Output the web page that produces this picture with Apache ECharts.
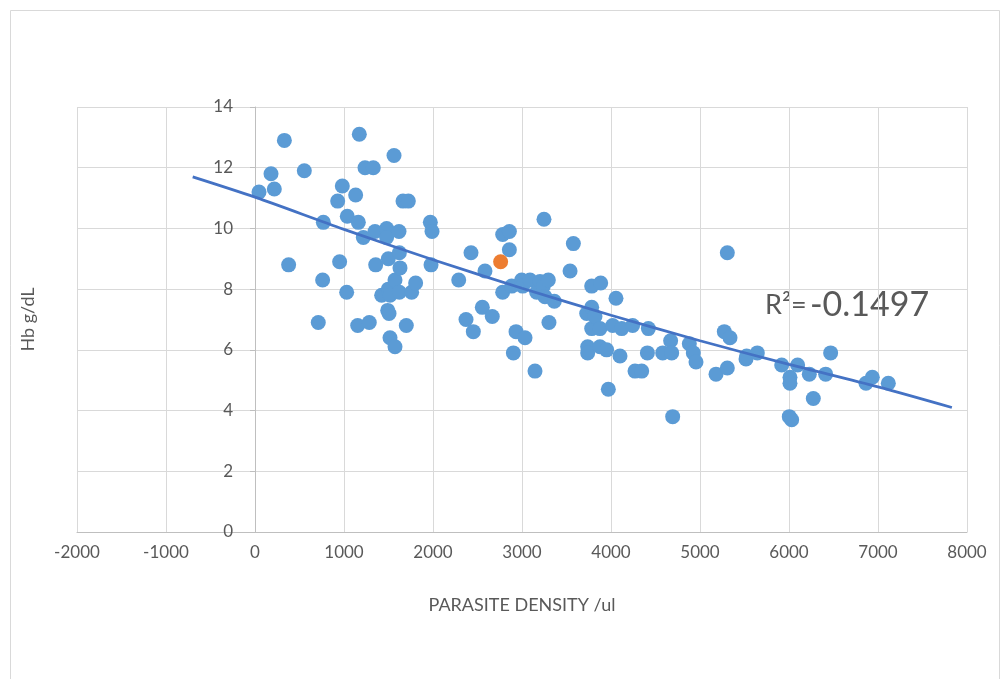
<!DOCTYPE html>
<html>
<head>
<meta charset="utf-8">
<script src="https://cdn.jsdelivr.net/npm/echarts@6/dist/echarts.min.js"></script>
<style>
  html, body { margin: 0; padding: 0; background: #fff; }
  #main { width: 1006px; height: 679px; }
</style>
</head>
<body>
<div id="main"></div>
<script>
// parasite density (/ul) and Hb (g/dL)
var density = [45,180,217,330,378,554,711,760,768,929,951,981,1030,1037,1131,1154,1161,1172,1217,1236,1284,1329,1348,1356,1423,1479,1479,1491,1498,1498,1506,1517,1517,1562,1573,1573,1618,1622,1622,1629,1663,1700,1723,1760,1805,1970,1989,1978,
  2289,2371,2427,2453,2554,2584,2666,2783,2783,2858,2858,2884,2903,2933,2996,3008,3034,3090,3146,3165,3202,3240,3247,3258,3296,3303,3363,3540,3577,
  3738,3738,3727,3783,3783,3783,3820,3876,3876,3884,3951,3970,4019,4056,4101,4120,4243,4270,4345,4409,4420,4581,4670,4682,4693,4880,4925,4955,5180,5273,5307,5307,5337,5517,5524,5644,5918,6003,6011,6011,6030,6097,6228,6273,6412,6468,6865,6936,7116];
var hb = [11.2,11.8,11.3,12.9,8.8,11.9,6.9,8.3,10.2,10.9,8.9,11.4,7.9,10.4,11.1,6.8,10.2,13.1,9.7,12.0,6.9,12.0,9.9,8.8,7.8,10.0,9.7,7.3,9.0,8.0,7.2,7.8,6.4,12.4,8.3,6.1,9.9,9.2,7.9,8.7,10.9,6.8,10.9,7.9,8.2,10.2,9.9,8.8,
  8.3,7.0,9.2,6.6,7.4,8.6,7.1,9.8,7.9,9.9,9.3,8.1,5.9,6.6,8.3,8.1,6.4,8.3,5.3,7.9,8.25,8.1,10.3,7.75,8.3,6.9,7.6,8.6,9.5,
  6.1,5.9,7.2,8.1,7.4,6.7,7.1,6.7,6.1,8.2,6.0,4.7,6.8,7.7,5.8,6.7,6.8,5.3,5.3,5.9,6.7,5.9,6.3,5.9,3.8,6.2,5.9,5.6,5.2,6.6,9.2,5.4,6.4,5.7,5.8,5.9,5.5,3.8,5.1,4.9,3.7,5.5,5.2,4.4,5.2,5.9,4.9,5.1,4.9];

// highlighted point
var markX = [2760];
var markY = [8.9];

// trend line
var trendX = [-700,0,1000,2000,3000,4000,5000,6000,7000,7830];
var trendY = [11.7,11.03,9.97,8.97,8.03,7.14,6.3,5.52,4.78,4.1];

var xTicks = {min: -2000, max: 8000, step: 1000};
var yTicks = {min: 0, max: 14, step: 2};

function pairs(xs, ys) {
  var out = [];
  for (var i = 0; i < xs.length; i++) out.push([xs[i], ys[i]]);
  return out;
}

var txt = '#595959';
var font = 'Lato, "Open Sans", sans-serif';

var myChart = echarts.init(document.getElementById('main'), null, {renderer: 'canvas'});

// y axis sits on x = 0, i.e. 2/10 of the plot width in from the left
var plotLeft = 77, plotRight = 39;
var plotW = 1006 - plotLeft - plotRight;
var yShift = plotW * (0 - xTicks.min) / (xTicks.max - xTicks.min);

var option = {
  backgroundColor: '#fff',
  animation: false,
  textStyle: {fontFamily: font},
  graphic: [{
    type: 'rect',
    left: 8, top: 8,
    shape: {width: 989, height: 700},
    style: {fill: 'none', stroke: '#d9d9d9', lineWidth: 1},
    silent: true
  }, {
    type: 'text',
    left: 765, top: 288,
    style: {
      rich: {
        a: {fontSize: 27, fill: txt, fontFamily: font},
        b: {fontSize: 34, fill: txt, fontFamily: font}
      },
      text: '{a|R²=} {b|-0.1497}'
    }
  }],
  grid: {left: plotLeft, right: plotRight, top: 107, bottom: 147, containLabel: false, outerBoundsMode: 'none'},
  xAxis: {
    type: 'value',
    min: xTicks.min, max: xTicks.max, interval: xTicks.step,
    name: 'PARASITE DENSITY /ul',
    nameLocation: 'middle',
    nameGap: 64,
    nameTextStyle: {color: txt, fontSize: 18, fontFamily: font},
    axisLine: {show: true, onZero: false, lineStyle: {color: '#bfbfbf', width: 1}},
    axisTick: {show: false},
    axisLabel: {color: txt, fontSize: 17, margin: 12, fontFamily: font, formatter: function (v) { return String(v); }},
    splitLine: {show: true, lineStyle: {color: '#d9d9d9', width: 1}}
  },
  yAxis: {
    type: 'value',
    min: yTicks.min, max: yTicks.max, interval: yTicks.step,
    name: 'Hb g/dL',
    nameLocation: 'middle',
    nameGap: yShift + 40,
    nameRotate: 90,
    nameTextStyle: {color: txt, fontSize: 18, fontFamily: font},
    offset: -yShift,
    axisLine: {show: true, onZero: false, lineStyle: {color: '#bfbfbf', width: 1}},
    axisTick: {show: true, length: 5, lineStyle: {color: '#bfbfbf'}},
    axisLabel: {color: txt, fontSize: 17, margin: 22, fontFamily: font},
    splitLine: {show: true, lineStyle: {color: '#d9d9d9', width: 1}}
  },
  series: [{
    type: 'scatter',
    data: pairs(density, hb),
    symbolSize: 15,
    itemStyle: {color: '#5b9bd5', opacity: 1},
    z: 3
  }, {
    type: 'line',
    data: pairs(trendX, trendY),
    showSymbol: false,
    smooth: 0.3,
    lineStyle: {color: '#4472c4', width: 2.75},
    z: 4
  }, {
    type: 'scatter',
    data: pairs(markX, markY),
    symbolSize: 15,
    itemStyle: {color: '#ed7d31', opacity: 1},
    z: 5
  }]
};

myChart.setOption(option);
</script>
</body>
</html>
